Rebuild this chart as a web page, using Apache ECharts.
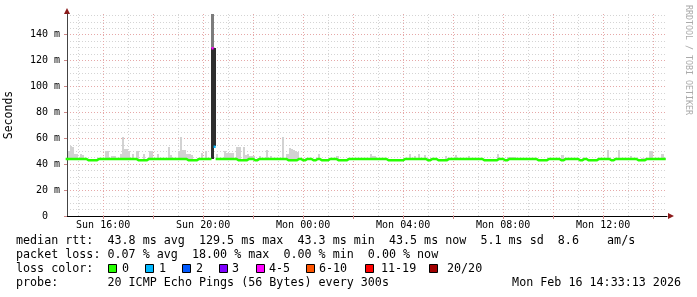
<!DOCTYPE html>
<html><head><meta charset="utf-8">
<script src="https://cdn.jsdelivr.net/npm/echarts@6/dist/echarts.min.js"></script>
<style>html,body{margin:0;padding:0;background:#fff}#c{width:697px;height:297px}</style>
</head><body><div id="c"></div>
<script>
// ---- time frame (minutes since Sun 00:00) ----
const viewStart = 873.2167;   // Sun 14:33:13
const viewEnd = 2313.2167;    // Mon 14:33:13
const firstSampleEnd = 875;   // Sun 14:35
const sampleStep = 5;         // 300 s

// ---- x axis labels / grid ----
const labelTimes = [960, 1200, 1440, 1680, 1920, 2160];
const tickLabels = ['Sun 16:00', 'Sun 20:00', 'Mon 00:00', 'Mon 04:00', 'Mon 08:00', 'Mon 12:00'];
const majorGridTimes = [960, 1080, 1200, 1320, 1440, 1560, 1680, 1800, 1920, 2040, 2160, 2280];
const minorGridTimes = [900, 1020, 1140, 1260, 1380, 1500, 1620, 1740, 1860, 1980, 2100, 2220];

// ---- y axis ----
const yMax = 156;

// ---- median rtt (ms), one value per 5-min sample ----
const medianRtt = [
 44,44,44,44,44,44,44,44,44,44,43,43,43,43,43,44,44,44,
 44,44,44,44,44,44,44,44,44,44,44,44,44,44,44,44,43,43,43,43,43,44,44,44,
 44,44,44,44,44,44,44,44,44,44,44,44,44,44,44,44,43,43,43,43,43,44,44,44,
 44,44,44,44,129.5,53.5,44,44,44,44,44,44,44,44,44,44,43,43,43,43,43,44,44,44,
 43,43,44,44,44,44,44,44,44,44,44,44,44,44,44,44,43,43,43,43,43,44,44,43,
 43,44,44,44,43,43,44,44,43,43,43,43,44,44,44,44,43,43,43,43,43,44,44,44,
 44,44,44,44,44,44,44,44,44,44,44,44,44,44,44,44,43,43,43,43,43,43,43,43,
 44,44,44,44,44,44,44,44,44,44,44,43,43,44,44,44,43,43,43,43,43,44,44,44,
 44,44,44,44,44,44,44,44,44,44,44,44,44,44,43,43,43,43,43,43,43,44,44,44,
 43,43,44,44,44,44,44,44,44,44,44,44,44,44,44,44,43,43,43,43,43,44,44,44,
 44,44,44,43,43,44,44,44,44,44,44,44,43,43,44,44,43,43,43,43,43,44,44,44,
 44,44,44,43,43,44,44,44,44,44,44,44,44,44,44,44,43,43,43,43,44,44,44,44,
 44,44,44,44,44,44
];

// ---- smoke top (max ping, ms) per sample ----
const smokeTop = [
 44.5,50,54,53,48,48,45,48,47,45,43.5,43.5,43.5,44,43.5,45,44.5,45,
 45,50,50,45,46,46,44.5,45,48,61,52,52,50,45,48,44.5,50,43.5,43.5,48,43.5,45,50,50,
 45,44.5,48,44.5,45,44.5,45,53,47,44.5,45,44.5,50,61,51,51,48,48,47,43.5,43.5,44.5,45,49,
 45,50,45,44.5,156,57,48,45,44.5,45,50,49,49,49,49,44.5,53,53,43.5,53,47,48,46.5,46.5,
 46,43.5,44.5,46.5,44.5,45,51,44.5,46,45,44.5,45,44.5,45,61,45,48,52.5,52,51,50,49.5,44.5,43.5,
 43.5,44.5,45,44.5,43.5,43.5,44.5,48,43.5,43.5,43.5,43.5,44.5,45,44.5,44.5,46,43.5,43.5,43.5,43.5,44.5,44.5,44.5,
 44.5,44.5,44.5,44.5,44.5,44.5,44.5,44.5,48,46,46,45,44.5,44.5,44.5,44.5,43.5,43.5,43.5,43.5,43.5,43.5,43.5,43.5,
 44.5,44.5,44.5,48,44.5,46,44.5,48,44.5,44.5,47,43.5,43.5,44.5,44.5,44.5,43.5,43.5,43.5,43.5,46,44.5,44.5,44.5,
 44.5,47,44.5,44.5,44.5,44.5,44.5,46,44.5,44.5,44.5,44.5,44.5,44.5,43.5,43.5,43.5,43.5,43.5,43.5,43.5,48,44.5,44.5,
 43.5,43.5,45.5,45.5,45.5,45.5,44.5,44.5,44.5,44.5,44.5,44.5,44.5,44.5,44.5,44.5,43.5,43.5,43.5,43.5,43.5,44.5,44.5,44.5,
 44.5,44.5,44.5,43.5,47,44.5,44.5,44.5,44.5,44.5,44.5,44.5,43.5,43.5,44.5,44.5,43.5,43.5,43.5,43.5,43.5,44.5,44.5,44.5,
 44.5,44.5,51,43.5,43.5,44.5,44.5,51,44.5,44.5,44.5,44.5,44.5,46,43.5,43.5,43.5,43.5,44.5,44.5,44.5,44.5,50,50,
 44.5,44.5,44.5,44.5,48,44.5
];
const smokeFloor = 43;            // min ping (ms)
// dense smoke core of the samples with loss: [sample, core top ms]
const smokeCore = [[70, 129.5], [71, 54]];
// samples with packet loss: [sample, loss bucket]
const lossSamples = [[70, 4], [71, 1]];

// ---- legend ----
const lossLabels = ['0', '1', '2', '3', '4-5', '6-10', '11-19', '20/20'];
const lossColors = ['#26ff00', '#00b8ff', '#0059ff', '#7e00ff', '#ff00ff', '#ff5500', '#ff0000', '#a10000'];
const legendLine1 = 'median rtt:  43.8 ms avg  129.5 ms max  43.3 ms min  43.5 ms now  5.1 ms sd  8.6    am/s';
const legendLine2 = 'packet loss: 0.07 % avg  18.00 % max  0.00 % min  0.00 % now';
const legendLine3 = 'loss color:';
const legendLine4 = 'probe:       20 ICMP Echo Pings (56 Bytes) every 300s';
const stampText = 'Mon Feb 16 14:33:13 2026';
const watermark = 'RRDTOOL / TOBI OETIKER';
const yTitle = 'Seconds';

// ---- helpers ----
const MONO = '"DejaVu Sans Mono", "Liberation Mono", monospace';
function bucketOf(i) { const f = lossSamples.find(s => s[0] === i); return f ? f[1] : 0; }
function coreOf(i) { const f = smokeCore.find(s => s[0] === i); return f ? f[1] : null; }
const sampleEnd = medianRtt.map((_, i) => firstSampleEnd + i * sampleStep);

const smokeData = smokeTop.map((v, i) => [sampleEnd[i], v, i]);

function renderSmoke(params, api) {
  const i = api.value(2), t1 = api.value(0), top = api.value(1), t0 = t1 - sampleStep;
  const core = coreOf(i);
  const xa = Math.round(api.coord([t0, 0])[0]), xb = Math.round(api.coord([t1, 0])[0]);
  const Y = v => Math.round(api.coord([t1, v])[1]);
  const kids = [];
  if (core == null) {
    kids.push({type: 'rect', shape: {x: xa, y: Y(top), width: xb - xa, height: Y(smokeFloor) - Y(top)}, style: {fill: '#d2d2d2'}});
  } else {
    kids.push({type: 'rect', shape: {x: xa, y: Y(top), width: xb - xa, height: Y(core) - Y(top)}, style: {fill: '#7c7c7c'}});
    kids.push({type: 'rect', shape: {x: xa, y: Y(core), width: xb - xa, height: Y(medianRtt[i - 1]) - Y(core)}, style: {fill: '#2e2e2e'}});
  }
  return {type: 'group', children: kids};
}

// median line series, one per loss bucket present
const usedBuckets = [0].concat(lossSamples.map(s => s[1]));
const medianSeries = [...new Set(usedBuckets)].map(b => {
  const data = [];
  medianRtt.forEach((m, i) => {
    const t1 = sampleEnd[i], t0 = t1 - sampleStep;
    if (bucketOf(i) === b) { data.push([t0, m]); data.push([t1, m]); }
    else data.push([t1, null]);
  });
  return {
    type: 'line', name: 'loss ' + lossLabels[b], xAxisIndex: 0, yAxisIndex: 0,
    data, showSymbol: false, symbol: 'none', connectNulls: false, z: 5,
    lineStyle: {color: lossColors[b], width: 2.5, join: 'miter', cap: 'butt'},
    animation: false, silent: true
  };
});

const gridDash = [1, 2];
const option = {
  animation: false,
  backgroundColor: '#ffffff',
  grid: {left: 67, top: 14, width: 600, height: 202, containLabel: false, outerBoundsMode: 'none'},
  xAxis: [
    {
      type: 'value', min: viewStart, max: viewEnd, z: 1,
      axisLine: {show: true, lineStyle: {color: '#000', width: 1}},
      axisTick: {show: true, customValues: majorGridTimes, length: 3, inside: false, lineStyle: {color: '#c88'}},
      axisLabel: {
        show: true, customValues: labelTimes, margin: 4, color: '#000',
        fontFamily: MONO, fontSize: 10,
        formatter: v => tickLabels[labelTimes.indexOf(Math.round(v))] || ''
      },
      splitLine: {show: true, lineStyle: {color: '#e6a8a8', width: 1, type: gridDash}}
    },
    {
      type: 'value', min: viewStart, max: viewEnd, z: 0, gridIndex: 0,
      axisLine: {show: false}, axisLabel: {show: false},
      axisTick: {show: false, customValues: minorGridTimes},
      splitLine: {show: true, lineStyle: {color: '#d4d4d4', width: 1, type: gridDash}}
    }
  ],
  yAxis: [
    {
      type: 'value', min: 0, max: yMax, interval: 20, z: 1,
      name: yTitle, nameLocation: 'middle', nameRotate: 90, nameGap: 52,
      nameTextStyle: {fontFamily: MONO, fontSize: 11.5, color: '#000'},
      axisLine: {show: true, lineStyle: {color: '#444', width: 1}},
      axisTick: {show: true, length: 3, lineStyle: {color: '#c88'}},
      axisLabel: {
        show: true, margin: 7, color: '#000', fontFamily: MONO, fontSize: 10, showMaxLabel: false,
        formatter: v => v === 0 ? '0  ' : v + ' m'
      },
      splitLine: {show: true, showMaxLine: false, lineStyle: {color: '#e6a8a8', width: 1, type: gridDash}}
    },
    {
      type: 'value', min: 0, max: yMax, interval: 5, z: 0,
      axisLine: {show: false}, axisLabel: {show: false}, axisTick: {show: false},
      splitLine: {show: true, showMaxLine: false, lineStyle: {color: '#d4d4d4', width: 1, type: gridDash}}
    }
  ],
  series: [
    {
      type: 'custom', name: 'smoke', xAxisIndex: 0, yAxisIndex: 0, clip: true, z: 3,
      data: smokeData, renderItem: renderSmoke, silent: true, animation: false
    }
  ].concat(medianSeries),
  graphic: []
};

// text rows
const rowFont = '11.7px ' + MONO;
function txt(text, x, y, align) {
  return {type: 'text', x: x, y: y, silent: true,
    style: {text: text, font: rowFont, fill: '#000', align: align || 'left', verticalAlign: 'middle',
            textAlign: align || 'left', textVerticalAlign: 'middle'}};
}
option.graphic.push(txt(legendLine1, 16, 241));
option.graphic.push(txt(legendLine2, 16, 255));
option.graphic.push(txt(legendLine3, 16, 269));
option.graphic.push(txt(legendLine4, 16, 283));
option.graphic.push(txt(stampText, 681, 283, 'right'));
const boxX = [108, 145, 182, 219, 256, 306, 365, 429];
const boxLabelX = [122, 159, 196, 232, 269, 319, 381, 447];
lossLabels.forEach((lab, k) => {
  option.graphic.push({type: 'rect', silent: true, shape: {x: boxX[k] + 0.5, y: 264.5, width: 8, height: 8},
    style: {fill: lossColors[k], stroke: '#000', lineWidth: 1}});
  option.graphic.push(txt(lab, boxLabelX[k], 269));
});
// arrows
option.graphic.push({type: 'polygon', silent: true, shape: {points: [[64, 14], [70, 14], [67, 8]]}, style: {fill: '#8b1a1a'}});
option.graphic.push({type: 'polygon', silent: true, shape: {points: [[668, 213], [668, 219], [674, 216]]}, style: {fill: '#8b1a1a'}});
// watermark
option.graphic.push({type: 'text', silent: true, x: 688, y: 60, rotation: -Math.PI / 2,
  style: {text: watermark, font: '8.3px ' + MONO, fill: '#aaaaaa', align: 'center', verticalAlign: 'middle',
          textAlign: 'center', textVerticalAlign: 'middle'}});

const chart = echarts.init(document.getElementById('c'), null, {renderer: 'canvas', width: 697, height: 297});
chart.setOption(option);
</script>
</body></html>
